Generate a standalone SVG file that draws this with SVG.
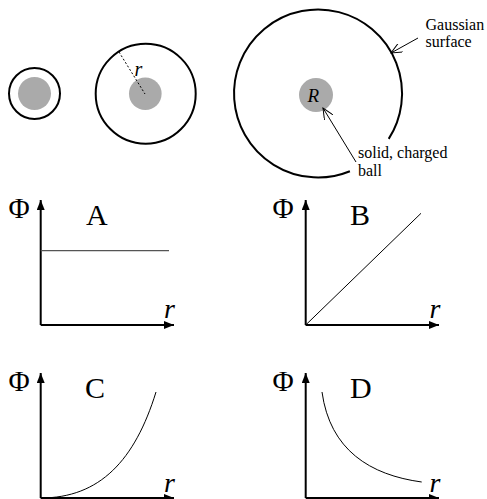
<svg xmlns="http://www.w3.org/2000/svg" width="487" height="499" viewBox="0 0 487 499">
<defs>
<marker id="ah" viewBox="0 0 10 8" refX="10" refY="4" markerWidth="10" markerHeight="8" markerUnits="userSpaceOnUse" orient="auto">
<path d="M0,0 L10,4 L0,8 Z" fill="#000"/>
</marker>
<marker id="open" viewBox="0 0 12 10" refX="11" refY="5" markerWidth="12" markerHeight="10" markerUnits="userSpaceOnUse" orient="auto">
<path d="M0,0 L11,5 L0,10" fill="none" stroke="#000" stroke-width="1"/>
</marker>
<style>
.ring{fill:none;stroke:#000;stroke-width:2}
.ball{fill:#aaaaaa}
.axis{fill:none;stroke:#000;stroke-width:2;marker-end:url(#ah)}
.curve{fill:none;stroke:#000;stroke-width:1}
.lbl{font-family:"Liberation Serif","Times New Roman",serif;fill:#000}
.it{font-style:italic}
.phi{font-size:29px}
.ptr{fill:none;stroke:#000;stroke-width:1;marker-end:url(#open)}
</style>
</defs>
<rect width="487" height="499" fill="#fff"/>

<g id="sphere-small">
<circle class="ring" cx="34.5" cy="93.5" r="25.5"/>
<circle class="ball" cx="34.5" cy="93.5" r="16.5"/>
</g>

<g id="sphere-medium">
<circle class="ring" cx="145.7" cy="93.7" r="50"/>
<circle class="ball" cx="145.3" cy="93.7" r="16.3"/>
<line x1="119" y1="52" x2="145" y2="94" stroke="#000" stroke-width="1" stroke-dasharray="2,2"/>
<text class="lbl it" x="134.5" y="76" font-size="20">r</text>
</g>

<g id="sphere-large">
<path class="ring" d="M388.7 138.9 A84 84 0 1 0 349.9 171.2"/>
<circle class="ball" cx="316" cy="95" r="17"/>
<text class="lbl it" x="307.5" y="102" font-size="19">R</text>
<text class="lbl" x="425.5" y="29.5" font-size="16">Gaussian</text>
<text class="lbl" x="425.5" y="46.7" font-size="16">surface</text>
<text class="lbl" x="358" y="158" font-size="16">solid, charged</text>
<text class="lbl" x="358" y="176" font-size="16">ball</text>
</g>

<g id="connectors">
<line class="ptr" x1="418" y1="38" x2="391" y2="53"/>
<line class="ptr" x1="356" y1="162" x2="323" y2="108"/>
</g>

<g id="graph-A">
<line class="axis" x1="40.7" y1="325" x2="40.7" y2="200"/>
<line class="axis" x1="40.7" y1="325" x2="174" y2="325"/>
<line x1="40.7" y1="250.7" x2="169" y2="250.7" stroke="#555" stroke-width="1.3"/>
<text class="lbl phi" x="8.5" y="217.5">Φ</text>
<text class="lbl" x="86" y="225" font-size="30">A</text>
<text class="lbl it" x="164" y="318" font-size="28">r</text>
</g>

<g id="graph-B">
<line class="axis" x1="305.7" y1="325" x2="305.7" y2="200"/>
<line class="axis" x1="305.7" y1="325" x2="439" y2="325"/>
<line class="curve" x1="305.7" y1="325" x2="421" y2="213.3"/>
<text class="lbl phi" x="272.5" y="217.5">Φ</text>
<text class="lbl" x="350" y="225" font-size="30">B</text>
<text class="lbl it" x="429.5" y="318" font-size="28">r</text>
</g>

<g id="graph-C">
<line class="axis" x1="40.7" y1="498" x2="40.7" y2="373"/>
<line class="axis" x1="40.7" y1="498" x2="174" y2="498"/>
<path class="curve" d="M40.7 498 C100 498 135 460 156 392"/>
<text class="lbl phi" x="8.5" y="390.5">Φ</text>
<text class="lbl" x="85" y="398" font-size="30">C</text>
<text class="lbl it" x="164" y="492" font-size="28">r</text>
</g>

<g id="graph-D">
<line class="axis" x1="305.7" y1="498" x2="305.7" y2="373"/>
<line class="axis" x1="305.7" y1="498" x2="439" y2="498"/>
<path class="curve" d="M322 392 C330 450 370 475 421.7 482"/>
<text class="lbl phi" x="272.5" y="390.5">Φ</text>
<text class="lbl" x="350" y="398" font-size="30">D</text>
<text class="lbl it" x="429.5" y="492" font-size="28">r</text>
</g>
</svg>
